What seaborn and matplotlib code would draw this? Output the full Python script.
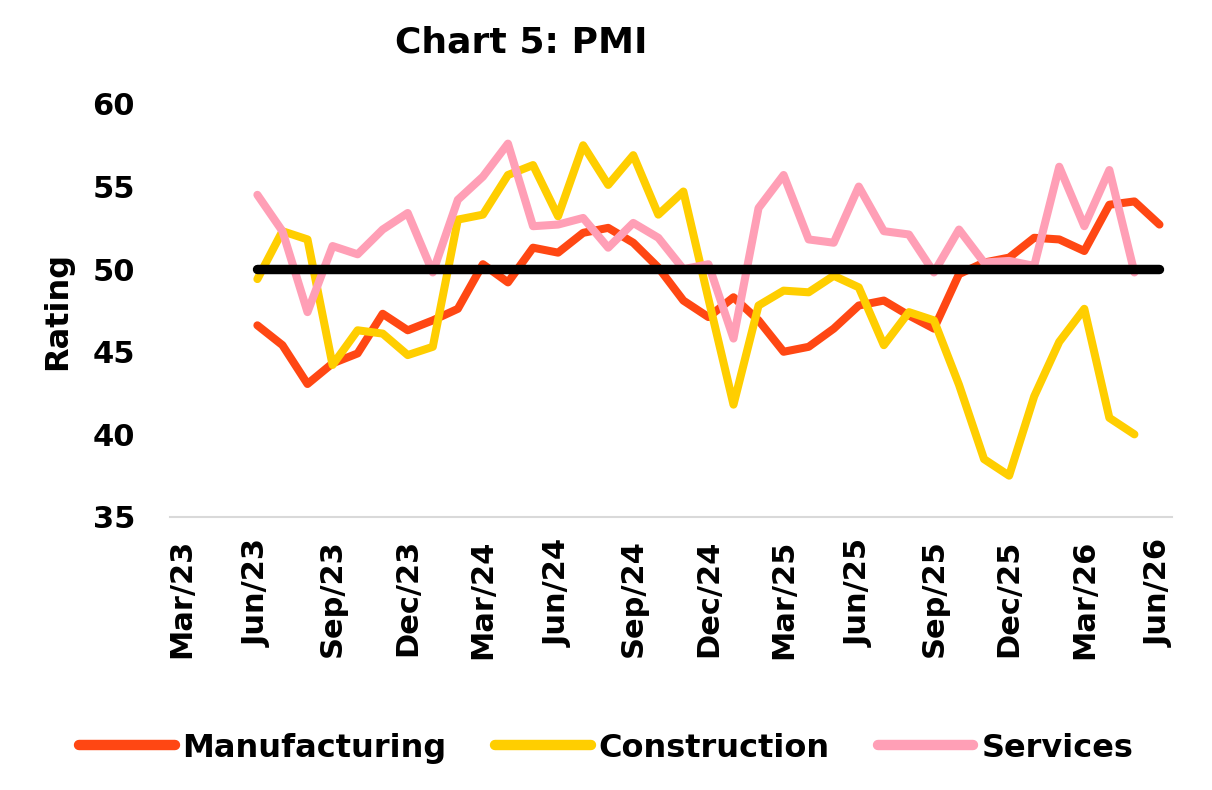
import numpy as np
import pandas as pd
import seaborn as sns
import matplotlib.pyplot as plt

# monthly axis, Mar/23 .. Jun/26
months = pd.date_range('2023-03-01', '2026-06-01', freq='MS')
month_labels = [m.strftime('%b/%y') for m in months]

# PMI readings from Jun/23 onwards
manufacturing = [46.6, 45.4, 43.05, 44.3, 44.9, 47.3, 46.3, 46.9, 47.6, 50.3,
                 49.2, 51.3, 51.0, 52.2, 52.5, 51.6, 50.1, 48.1, 47.1, 48.3,
                 46.9, 45.0, 45.3, 46.4, 47.8, 48.1, 47.2, 46.4, 49.7, 50.4,
                 50.7, 51.9, 51.8, 51.1, 53.9, 54.1, 52.7]
construction = [49.4, 52.3, 51.8, 44.2, 46.3, 46.1, 44.8, 45.3, 53.0, 53.3,
                55.7, 56.3, 53.2, 57.5, 55.1, 56.9, 53.3, 54.7, 48.2, 41.8,
                47.8, 48.7, 48.6, 49.6, 48.9, 45.4, 47.4, 46.9, 43.0, 38.5,
                37.5, 42.3, 45.6, 47.6, 41.0, 40.0]
services = [54.5, 52.3, 47.4, 51.4, 50.9, 52.4, 53.4, 49.8, 54.2, 55.6,
            57.6, 52.6, 52.7, 53.1, 51.3, 52.8, 51.9, 50.0, 50.3, 45.8,
            53.7, 55.7, 51.8, 51.6, 55.0, 52.3, 52.1, 49.8, 52.4, 50.4,
            50.5, 50.2, 56.2, 52.6, 56.0, 49.8]
threshold = [50.0] * 37
start = 3  # Jun/23

def pad(vals):
    out = [np.nan] * start + list(vals)
    return out + [np.nan] * (len(months) - len(out))

df = pd.DataFrame({
    'pos': np.arange(len(months)),
    'Manufacturing': pad(manufacturing),
    'Construction': pad(construction),
    'Services': pad(services),
    'Threshold': pad(threshold),
})

colors = {'Manufacturing': '#ff4713', 'Construction': '#ffce00', 'Services': '#ff9fb6'}

sns.set_style('white')
plt.rcParams['font.family'] = ['DejaVu Sans']
plt.rcParams['font.weight'] = 'bold'
plt.rcParams['text.color'] = 'black'
plt.rcParams['axes.labelcolor'] = 'black'
plt.rcParams['xtick.color'] = 'black'
plt.rcParams['ytick.color'] = 'black'

fig = plt.figure(figsize=(12.12, 7.9), dpi=100)
ax = fig.add_axes([0.140, 0.3456, 0.827, 0.5228])

for name in ['Manufacturing', 'Construction', 'Services']:
    sns.lineplot(data=df, x='pos', y=name, ax=ax, color=colors[name], lw=5.8,
                 label=name, solid_capstyle='round')
sns.lineplot(data=df, x='pos', y='Threshold', ax=ax, color='black', lw=6.8,
             solid_capstyle='round', zorder=5, legend=False)

ax.set_xlim(-0.5, len(months) - 0.5)
ax.set_ylim(35, 60)
ax.set_yticks([35, 40, 45, 50, 55, 60])
ax.set_xticks(df['pos'][::3])
ax.set_xticklabels(month_labels[::3], rotation=90, fontsize=22, fontweight='bold')
ax.tick_params(axis='y', labelsize=22, length=0, pad=25, labelcolor='black')
ax.tick_params(axis='x', length=0, pad=16, labelcolor='black')
for lab in ax.get_yticklabels():
    lab.set_fontweight('bold')
ax.set_xlabel('')
ax.set_ylabel('Rating', fontsize=23, fontweight='bold', labelpad=14, color='black')

for s in ['top', 'right', 'left']:
    ax.spines[s].set_visible(False)
ax.spines['bottom'].set_color('#d9d9d9')
ax.spines['bottom'].set_linewidth(1.5)

ax.get_legend().remove()
handles, labels = ax.get_legend_handles_labels()
leg = fig.legend(handles[:3], labels[:3], loc='center', bbox_to_anchor=(0.5, 0.053),
                 ncol=3, frameon=False, handlelength=3.0, columnspacing=1.5,
                 handletextpad=0.25, prop={'size': 23, 'weight': 'bold'})
for line in leg.get_lines():
    line.set_linewidth(7.5)
    line.set_solid_capstyle('round')
for t in leg.get_texts():
    t.set_color('black')

fig.text(0.43, 0.946, 'Chart 5: PMI', ha='center', va='center',
         fontsize=26, fontweight='bold', color='black')

fig.savefig('out.png', dpi=100)
